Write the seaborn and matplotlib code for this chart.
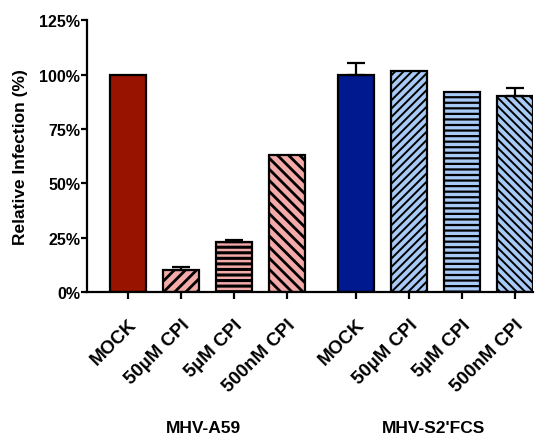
import numpy as np
import pandas as pd
import seaborn as sns
import matplotlib.pyplot as plt
import matplotlib.transforms as mtransforms

# data
conditions = ["MOCK", "50µM CPI", "5µM CPI", "500nM CPI"]
a59_vals = [100, 10, 23, 63]
a59_err = [0, 1.5, 1, 0]
s2_vals = [100, 101.5, 92.2, 90]
s2_err = [5.5, 0, 0, 4]
groups = ["MHV-A59", "MHV-S2'FCS"]

sns.set_style("ticks")
plt.rcParams['font.family'] = ['Liberation Sans', 'DejaVu Sans']
plt.rcParams['hatch.linewidth'] = 2.0
plt.rcParams['axes.linewidth'] = 1.6
plt.rcParams['text.color'] = 'black'
plt.rcParams['xtick.color'] = 'black'
plt.rcParams['ytick.color'] = 'black'
plt.rcParams['axes.labelcolor'] = 'black'
plt.rcParams['axes.edgecolor'] = 'black'

pos = [0, 1, 2, 3, 4.3, 5.3, 6.3, 7.3]
df = pd.DataFrame({"pos": pos, "value": a59_vals + s2_vals,
                   "err": a59_err + s2_err, "label": conditions * 2})

fig = plt.figure(figsize=(5.47, 4.39), dpi=100)
ax = fig.add_axes([0.159, 0.3326, 0.815, 0.619])

sns.barplot(data=df, x="pos", y="value", native_scale=True, width=0.68,
            color="white", edgecolor="black", linewidth=1.6,
            errorbar=None, ax=ax)

fills = ["#981300", "#F3AAA8", "#F3AAA8", "#F3AAA8",
         "#00198E", "#A8CAF6", "#A8CAF6", "#A8CAF6"]
hatches = ["", "///", "---", "\\\\\\", "", "////", "---", "\\\\\\\\"]
hlw = [2.0, 2.0, 2.2, 2.0, 1.4, 1.4, 1.6, 1.4]
for p, fc, h, lw in zip(ax.patches, fills, hatches, hlw):
    p.set_facecolor(fc)
    p.set_edgecolor("black")
    p.set_hatch(h)
    if hasattr(p, "set_hatch_linewidth"):
        p.set_hatch_linewidth(lw)

# upper error bars only
m = df["err"] > 0
ax.errorbar(df.loc[m, "pos"], df.loc[m, "value"],
            yerr=[np.zeros(m.sum()), df.loc[m, "err"]],
            fmt="none", ecolor="black", elinewidth=1.6, capsize=6.5, capthick=1.6,
            zorder=1)

sns.despine(ax=ax)
ax.set_xlim(-0.77, 7.64)
ax.set_ylim(0, 125)
ax.set_yticks([0, 25, 50, 75, 100, 125])
ax.set_yticklabels([f"{v}%" for v in [0, 25, 50, 75, 100, 125]],
                   fontsize=11.5, fontweight="bold")
ax.set_xticks(pos)
ax.set_xticklabels(df["label"], rotation=45, ha="right", va="top",
                   rotation_mode="anchor", fontsize=13.5, fontweight="bold")
ax.tick_params(axis="both", direction="out", width=1.6)
ax.tick_params(axis="x", length=5, pad=12)
ax.tick_params(axis="y", length=4, pad=1)
ax.set_xlabel("")
ax.set_ylabel("Relative Infection (%)", fontsize=12.5, fontweight="bold",
              labelpad=8)

trans = mtransforms.blended_transform_factory(ax.transData, fig.transFigure)
ax.text(1.43, 0.023, groups[0], transform=trans, ha="center", va="center",
        fontsize=12.5, fontweight="bold")
ax.text(5.76, 0.023, groups[1], transform=trans, ha="center", va="center",
        fontsize=12.5, fontweight="bold")

fig.savefig("out.png", dpi=100)
